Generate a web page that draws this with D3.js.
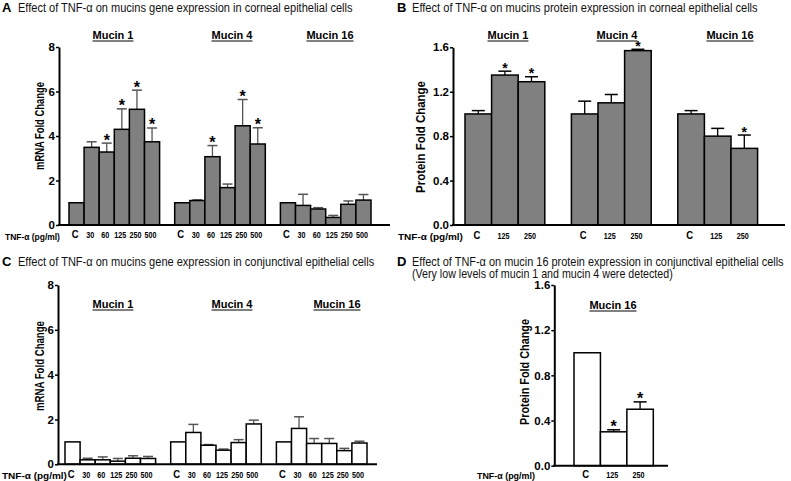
<!DOCTYPE html>
<html><head><meta charset="utf-8">
<script src="https://cdn.jsdelivr.net/npm/d3@7"></script>
<style>
body{margin:0;background:#fff;}
svg{display:block;font-family:"Liberation Sans",Arial,sans-serif;}
</style></head>
<body>
<svg id="chart" width="791" height="481"></svg>
<script>
// ---------- DATA ----------
const mucins = ["Mucin 1", "Mucin 4", "Mucin 16"];
const dosesGene = ["C", "30", "60", "125", "250", "500"];
const dosesProtein = ["C", "125", "250"];
const geneTicks = [0, 2, 4, 6, 8];
const proteinTicks = [0, 0.4, 0.8, 1.2, 1.6];

// A: mRNA, corneal
const aMean = [[1, 3.49, 3.28, 4.3, 5.2, 3.74], [1, 1.1, 3.07, 1.68, 4.46, 3.64], [1, 0.88, 0.72, 0.34, 0.93, 1.12]];
const aErr  = [[0, 0.25, 0.4, 0.92, 0.86, 0.62], [0, 0.03, 0.5, 0.16, 1.18, 0.73], [0, 0.5, 0.06, 0.09, 0.15, 0.25]];
const aSig  = [[0, 0, 1, 1, 1, 1], [0, 0, 1, 0, 1, 1], [0, 0, 0, 0, 0, 0]];
// B: protein, corneal
const bMean = [[1, 1.35, 1.29], [1, 1.1, 1.57], [1, 0.8, 0.69]];
const bErr  = [[0.03, 0.035, 0.045], [0.115, 0.075, 0.012], [0.03, 0.07, 0.12]];
const bSig  = [[0, 1, 1], [0, 0, 1], [0, 0, 1]];
// C: mRNA, conjunctival
const cMean = [[1, 0.2, 0.2, 0.14, 0.27, 0.26], [1, 1.42, 0.85, 0.63, 0.97, 1.8], [1, 1.6, 0.93, 0.93, 0.61, 0.95]];
const cErr  = [[0, 0.07, 0.13, 0.12, 0.11, 0.09], [0, 0.36, 0.03, 0.05, 0.13, 0.17], [0, 0.52, 0.22, 0.22, 0.1, 0.08]];
const cSig  = [[0, 0, 0, 0, 0, 0], [0, 0, 0, 0, 0, 0], [0, 0, 0, 0, 0, 0]];
// D: protein, conjunctival (mucin 16 only)
const dGroups = ["Mucin 16"];
const dMean = [[1, 0.3, 0.5]];
const dErr  = [[0, 0.018, 0.065]];
const dSig  = [[0, 1, 1]];

const titles = {
  A: "Effect of TNF-\u03b1 on mucins gene expression in corneal epithelial cells",
  B: "Effect of TNF-\u03b1 on mucins protein expression in corneal epithelial cells",
  C: "Effect of TNF-\u03b1 on mucins gene expression in conjunctival epithelial cells",
  D: "Effect of TNF-\u03b1 on mucin 16 protein expression in conjunctival epithelial cells",
  D2: "(Very low levels of mucin 1 and mucin 4 were detected)"
};
const tnfLabel = "TNF-\u03b1 (pg/ml)";

// ---------- DRAW ----------
const svg = d3.select("#chart");

// condensed text: natural text squeezed horizontally to a target width
function narrowText(parent, x, y, text, size, opts) {
  const o = Object.assign({anchor: "start", bold: false, len: null, ratio: 0.82, rotate: false, fill: "#000"}, opts || {});
  const t = parent.append("text").attr("x", 0).attr("y", 0)
    .attr("font-size", size).attr("font-weight", o.bold ? "bold" : "normal")
    .attr("text-anchor", o.anchor).attr("fill", o.fill).text(text);
  const n = t.node().getComputedTextLength();
  const s = o.len ? o.len / n : o.ratio;
  t.attr("transform", `translate(${x},${y})${o.rotate ? " rotate(-90)" : ""} scale(${s},1)`);
  return t;
}

function title(letter, text, lx, tx, ty, len) {
  svg.append("text").attr("x", lx).attr("y", ty).attr("font-weight", "bold")
    .attr("font-size", 13).text(letter);
  narrowText(svg, tx, ty, text, 12, {len: len, fill: "#111"});
}

function panel(cfg) {
  const g = svg.append("g");
  const y = d3.scaleLinear().domain(cfg.yDomain).range(cfg.yRange);
  const outer = d3.scaleBand().domain(cfg.groups).range(cfg.xRange)
    .paddingInner(cfg.padInner).paddingOuter(0);
  const inner = d3.scaleBand().domain(cfg.doses).range([0, outer.bandwidth()]).padding(0);
  const bw = inner.bandwidth();

  cfg.groups.forEach((grp, gi) => {
    const gg = g.append("g");
    cfg.doses.forEach((d, di) => {
      const v = cfg.means[gi][di], e = cfg.errs[gi][di];
      const x0 = outer(grp) + inner(d), cx = x0 + bw / 2;
      if (e > 0) {
        gg.append("line").attr("x1", cx).attr("x2", cx).attr("y1", y(v)).attr("y2", y(v + e))
          .attr("stroke", cfg.errColor).attr("stroke-width", 1.3);
        gg.append("line").attr("x1", cx - cfg.cap / 2).attr("x2", cx + cfg.cap / 2)
          .attr("y1", y(v + e)).attr("y2", y(v + e))
          .attr("stroke", cfg.errColor).attr("stroke-width", 1.5);
      }
      gg.append("rect").attr("x", x0).attr("y", y(v)).attr("width", bw)
        .attr("height", y(0) - y(v)).attr("fill", cfg.fill)
        .attr("stroke", "#000").attr("stroke-width", 1.5);
      if (cfg.sigs[gi][di]) {
        gg.append("text").attr("x", cx).attr("y", y(v + e) + cfg.starOff)
          .attr("text-anchor", "middle").attr("font-weight", "bold")
          .attr("font-size", cfg.starSize).text("*");
      }
      narrowText(gg, cx - 1.5, cfg.xlabY, d, d === "C" ? 10 : 9,
        {anchor: "middle", bold: true, ratio: d === "C" ? 0.95 : 0.8});
    });
    const hx = cfg.headX[gi];
    const ht = g.append("text").attr("x", hx).attr("y", cfg.headY).attr("text-anchor", "middle")
      .attr("font-weight", "bold").attr("font-size", 11).text(grp);
    const w = ht.node().getComputedTextLength();
    g.append("line").attr("x1", hx - w / 2).attr("x2", hx + w / 2)
      .attr("y1", cfg.headY + 2.5).attr("y2", cfg.headY + 2.5)
      .attr("stroke", "#000").attr("stroke-width", 1);
  });

  // y axis
  const ax = g.append("g").attr("transform", `translate(${cfg.axisX},0)`)
    .call(d3.axisLeft(y).tickValues(cfg.ticks).tickSize(3).tickSizeOuter(0)
      .tickFormat(cfg.fmt));
  ax.select(".domain").attr("stroke", "#000").attr("stroke-width", 2);
  ax.selectAll(".tick line").attr("stroke", "#000").attr("stroke-width", 1.5);
  ax.selectAll(".tick text").attr("font-size", 11.5).attr("font-weight", "bold")
    .attr("font-family", "Liberation Sans, Arial, sans-serif").attr("fill", "#000").attr("x", -4);

  // x axis line
  g.append("line").attr("x1", cfg.axisX - 1).attr("x2", cfg.axisEnd)
    .attr("y1", y(0)).attr("y2", y(0)).attr("stroke", "#000").attr("stroke-width", 2);

  // y label
  narrowText(g, cfg.ylx, cfg.yly, cfg.ylabel, 12, {anchor: "middle", bold: true, len: cfg.ylLen, rotate: true});

  // TNF label
  narrowText(g, cfg.tnfX, cfg.tnfY, tnfLabel, 9, {bold: true, len: cfg.tnfLen});
}

title("A", titles.A, 2, 18, 11.5, 335);
title("B", titles.B, 397, 412, 11.5, 346);
title("C", titles.C, 2, 18, 266, 357);
title("D", titles.D, 397, 412, 266, 372);
narrowText(svg, 412, 277.5, titles.D2, 12, {len: 261, fill: "#111"});

panel({
  groups: mucins, doses: dosesGene, means: aMean, errs: aErr, sigs: aSig,
  yDomain: [0, 8], yRange: [225, 47], ticks: geneTicks, fmt: d3.format("d"),
  xRange: [69, 371], padInner: 1 / 7, axisX: 59, axisEnd: 390,
  fill: "#808080", errColor: "#555", cap: 10, starSize: 16, starOff: 2.5,
  headX: [113, 232, 330], headY: 38.5, xlabY: 238,
  ylabel: "mRNA Fold Change", ylx: 44, yly: 126, ylLen: 88,
  tnfX: 5, tnfY: 239.5, tnfLen: 55
});
panel({
  groups: mucins, doses: dosesProtein, means: bMean, errs: bErr, sigs: bSig,
  yDomain: [0, 1.6], yRange: [225, 47.3], ticks: proteinTicks, fmt: d3.format(".1f"),
  xRange: [465, 757.6], padInner: 1 / 4, axisX: 453, axisEnd: 785,
  fill: "#808080", errColor: "#000", cap: 13, starSize: 14, starOff: 1.5,
  headX: [508, 617, 730], headY: 38.5, xlabY: 238.5,
  ylabel: "Protein Fold Change", ylx: 425, yly: 137, ylLen: 112,
  tnfX: 398, tnfY: 239.5, tnfLen: 65
});
panel({
  groups: mucins, doses: dosesGene, means: cMean, errs: cErr, sigs: cSig,
  yDomain: [0, 8], yRange: [464.3, 285], ticks: geneTicks, fmt: d3.format("d"),
  xRange: [65, 367], padInner: 1 / 7, axisX: 58, axisEnd: 377,
  fill: "#fff", errColor: "#555", cap: 10, starSize: 16, starOff: 2.5,
  headX: [113, 232, 337], headY: 307.5, xlabY: 478,
  ylabel: "mRNA Fold Change", ylx: 44, yly: 366, ylLen: 90,
  tnfX: 2, tnfY: 479, tnfLen: 65
});
panel({
  groups: dGroups, doses: dosesProtein, means: dMean, errs: dErr, sigs: dSig,
  yDomain: [0, 1.6], yRange: [465.7, 285], ticks: proteinTicks, fmt: d3.format(".1f"),
  xRange: [574, 653.3], padInner: 0, axisX: 554.3, axisEnd: 668,
  fill: "#fff", errColor: "#000", cap: 13, starSize: 16, starOff: 2.5,
  headX: [613], headY: 308.5, xlabY: 478,
  ylabel: "Protein Fold Change", ylx: 529, yly: 372, ylLen: 106,
  tnfX: 477, tnfY: 479, tnfLen: 58
});
</script>
</body></html>
